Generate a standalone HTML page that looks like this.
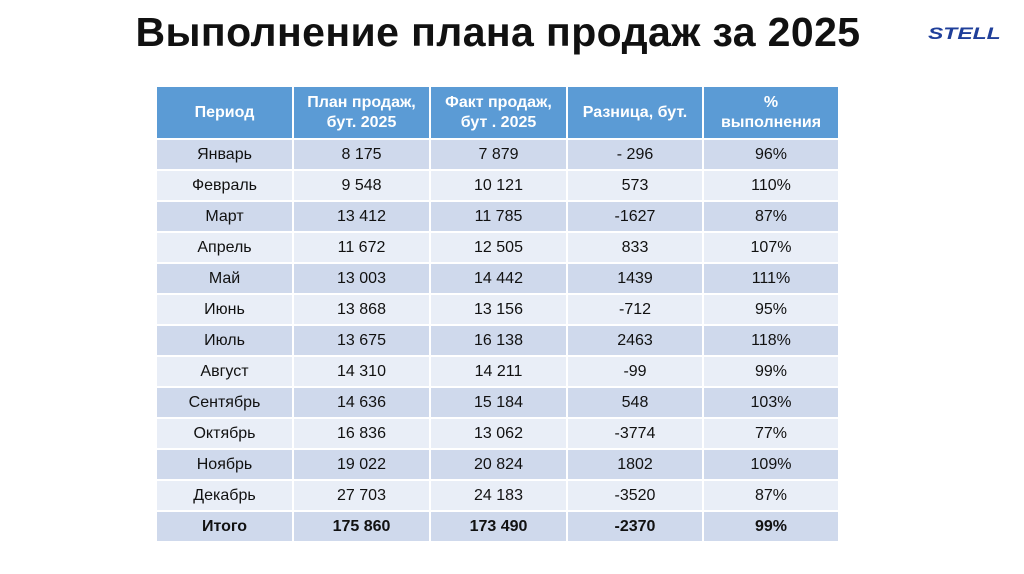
<!DOCTYPE html>
<html><head><meta charset="utf-8">
<style>
body{margin:0;width:1024px;height:574px;background:#fff;font-family:"Liberation Sans","DejaVu Sans",sans-serif;position:relative;overflow:hidden}
h1{position:absolute;left:0;top:9px;width:996px;text-align:center;margin:0;font-size:41px;font-weight:bold;color:#111;letter-spacing:0.4px}
.logo{position:absolute;left:928px;top:24px;font-size:17px;font-weight:900;font-style:italic;color:#1f3f9a;letter-spacing:0px;transform:scaleX(1.35);transform-origin:left}
table{position:absolute;left:155px;top:85px;border-collapse:collapse}
td,th{border:2px solid #fff;text-align:center;font-size:16px;color:#111;padding:0;height:29px}
th{background:#5b9bd5;color:#fff;font-weight:bold;height:51px;line-height:20px}
tr.o td{background:#cfd9ec}
tr.e td{background:#e9eef7}
tr.t td{font-weight:bold}
</style></head><body>
<h1>Выполнение плана продаж за 2025</h1>
<div class="logo">STELL</div>
<table>
<colgroup><col style="width:137px"><col style="width:137px"><col style="width:137px"><col style="width:136px"><col style="width:136px"></colgroup>
<tr><th>Период</th><th>План продаж,<br>бут. 2025</th><th>Факт продаж,<br>бут . 2025</th><th>Разница, бут.</th><th>%<br>выполнения</th></tr>
<tr class="o"><td>Январь</td><td>8 175</td><td>7 879</td><td>- 296</td><td>96%</td></tr>
<tr class="e"><td>Февраль</td><td>9 548</td><td>10 121</td><td>573</td><td>110%</td></tr>
<tr class="o"><td>Март</td><td>13 412</td><td>11 785</td><td>-1627</td><td>87%</td></tr>
<tr class="e"><td>Апрель</td><td>11 672</td><td>12 505</td><td>833</td><td>107%</td></tr>
<tr class="o"><td>Май</td><td>13 003</td><td>14 442</td><td>1439</td><td>111%</td></tr>
<tr class="e"><td>Июнь</td><td>13 868</td><td>13 156</td><td>-712</td><td>95%</td></tr>
<tr class="o"><td>Июль</td><td>13 675</td><td>16 138</td><td>2463</td><td>118%</td></tr>
<tr class="e"><td>Август</td><td>14 310</td><td>14 211</td><td>-99</td><td>99%</td></tr>
<tr class="o"><td>Сентябрь</td><td>14 636</td><td>15 184</td><td>548</td><td>103%</td></tr>
<tr class="e"><td>Октябрь</td><td>16 836</td><td>13 062</td><td>-3774</td><td>77%</td></tr>
<tr class="o"><td>Ноябрь</td><td>19 022</td><td>20 824</td><td>1802</td><td>109%</td></tr>
<tr class="e"><td>Декабрь</td><td>27 703</td><td>24 183</td><td>-3520</td><td>87%</td></tr>
<tr class="o t"><td>Итого</td><td>175 860</td><td>173 490</td><td>-2370</td><td>99%</td></tr>
</table>
</body></html>
